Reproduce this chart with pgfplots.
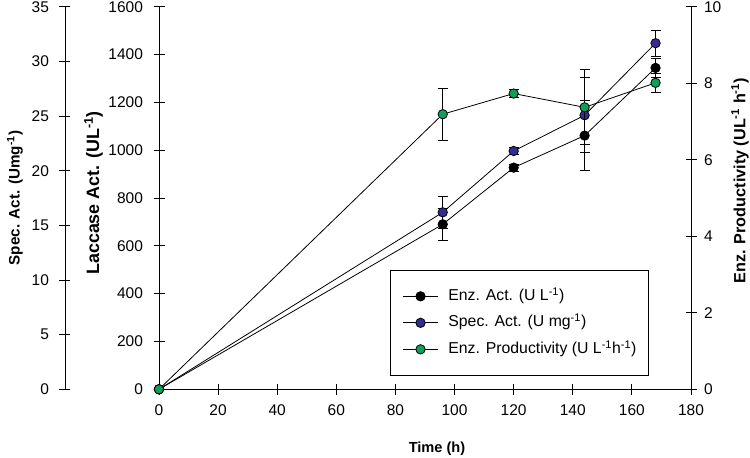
\documentclass[border=0pt]{standalone}
\usepackage{fontspec}
\setmainfont{Liberation Sans}
\usepackage{pgfplots}
\pgfplotsset{compat=1.18}
\definecolor{blueM}{RGB}{52,42,150}
\definecolor{greenM}{RGB}{16,158,88}
\pgfplotsset{
  base/.style={scale only axis, width=532pt, height=382.6pt,
    at={(159pt,68.7pt)}, anchor=south west,
    xmin=0, xmax=180, ymin=0, clip=false,
    tick align=center, major tick length=11pt,
    /pgf/number format/assume math mode=true,
    /pgf/number format/set thousands separator={},
    tick label style={font=\fontsize{15.5}{17}\selectfont, black},
    tick style={black, line width=0.8pt},
    axis line style={line width=0.8pt, black},
    scaled y ticks=false,
  },
  ser/.style={black, line width=0.8pt, mark=*, mark size=4.7pt,
    mark options={fill=#1, draw=black, line width=0.8pt},
    error bars/y dir=both, error bars/y explicit,
    error bars/error bar style={line width=0.8pt, black},
    error bars/error mark options={rotate=90, mark size=5pt, line width=0.8pt, black}},
}
\begin{document}
\begin{tikzpicture}
\path[use as bounding box] (0,0) rectangle (750pt,458pt);
% Laccase activity axis (left inner) + x axis
\begin{axis}[base, ymax=1600, ytick={0,200,...,1600},
  xtick={0,20,...,180},
  axis x line*=bottom, axis y line*=left,
  yticklabel style={xshift=-7pt},
  xticklabel style={yshift=-6pt},
  xlabel={\fontsize{14.6}{16}\selectfont\bfseries Time (h)},
  ylabel={\fontsize{17.9}{20}\selectfont\bfseries Laccase Act. (UL\textsuperscript{-1})},
  every axis x label/.style={at={(axis description cs:0.5226,-0.156)}, anchor=center},
  every axis y label/.style={at={(axis description cs:-0.1231,0.513)}, rotate=90, anchor=center},
]
\addplot[ser=black] coordinates {
  (0,0) +- (0,0)
  (96,690) +- (0,66)
  (120,927) +- (0,15)
  (144,1061) +- (0,146)
  (168,1344) +- (0,38)
};
\end{axis}
% Specific activity axis (left outer)
\begin{axis}[base, ymax=35, ytick={0,5,...,35},
  axis x line=none, axis y line*=left, axis y line shift=94pt,
  yticklabel style={xshift=-7pt},
  ylabel={\fontsize{15.2}{18}\selectfont\bfseries Spec. Act. (Umg\textsuperscript{-1})},
  every axis y label/.style={at={(axis description cs:-0.2707,0.5)}, rotate=90, anchor=center},
]
\addplot[ser=blueM] coordinates {
  (0,0) +- (0,0)
  (96,16.19) +- (0,1.47)
  (120,21.80) +- (0,0.3)
  (144,25.07) +- (0,3.43)
  (168,31.66) +- (0,1.19)
};
\end{axis}
% Enzyme productivity axis (right)
\begin{axis}[base, ymax=10, ytick={0,2,...,10},
  axis x line=none, axis y line*=right,
  yticklabel style={xshift=4pt},
  ylabel={\fontsize{16.2}{19}\selectfont\bfseries Enz. Productivity (UL\textsuperscript{-1} h\textsuperscript{-1})},
  every axis y label/.style={at={(axis description cs:1.092,0.545)}, rotate=90, anchor=center},
  legend cell align=left,
  legend image code/.code={\draw[mark repeat=2,mark phase=2,#1] plot coordinates {(0pt,0pt) (17.85pt,0pt) (35.7pt,0pt)};},
  legend style={at={(0.434,0.312)}, anchor=north west, draw=black, line width=0.8pt,
    font=\fontsize{15.8}{19}\selectfont, row sep=10.5pt, column sep=0pt,
    inner xsep=12pt, inner ysep=18pt,
    nodes={inner sep=0pt, text height=12pt, text depth=4pt},
    /tikz/every odd column/.append style={column sep=9.6pt}},
]
\addlegendimage{black, line width=0.8pt, mark=*, mark size=4.7pt, mark options={fill=black, draw=black}}
\addlegendentry{Enz. Act. (U L\textsuperscript{-1})}
\addlegendimage{black, line width=0.8pt, mark=*, mark size=4.7pt, mark options={fill=blueM, draw=black}}
\addlegendentry{Spec. Act. (U mg\textsuperscript{-1})}
\addlegendimage{black, line width=0.8pt, mark=*, mark size=4.7pt, mark options={fill=greenM, draw=black}}
\addlegendentry{Enz. Productivity (U L\textsuperscript{-1}h\textsuperscript{-1})\hspace{8pt}}
\addplot[ser=greenM, forget plot] coordinates {
  (0,0) +- (0,0)
  (96,7.19) +- (0,0.68)
  (120,7.73) +- (0,0.11)
  (144,7.37) +- (0,0.98)
  (168,8.01) +- (0,0.24)
};
\end{axis}
\end{tikzpicture}
\end{document}
